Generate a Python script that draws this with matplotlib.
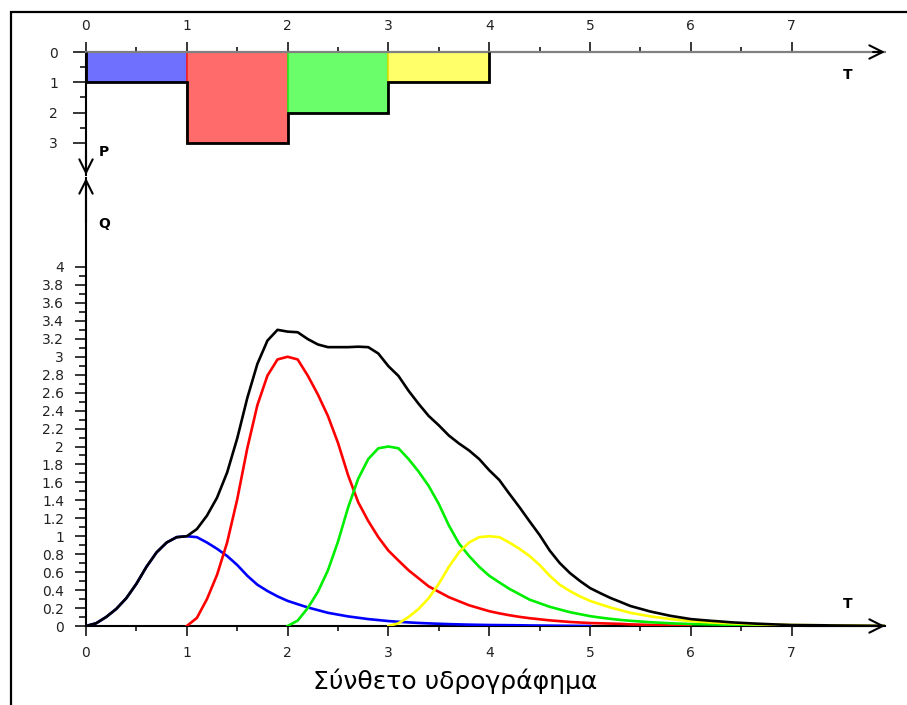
import numpy as np
import matplotlib
matplotlib.use("Agg")
import matplotlib.pyplot as plt
from matplotlib.patches import Rectangle

plt.rcParams['font.family'] = ['DejaVu Sans']

# rainfall blocks (hyetograph), one per time step
RAIN = [1, 3, 2, 1]
RAIN_FILL = ['#7070ff', '#ff6a6a', '#6aff6a', '#ffff6a']
RAIN_EDGE = ['#3030ff', '#ff2020', '#20ee20', '#e0e000']
CURVE_COLORS = ['#0000ff', '#ff0000', '#00ee00', '#ffff00']

# dimensionless unit hydrograph ordinates, t = 0.0 .. 5.0 step 0.1
UH_Q = [0.000, 0.030, 0.100, 0.190, 0.310, 0.470, 0.660, 0.820, 0.930, 0.990,
        1.000, 0.990, 0.930, 0.860, 0.780, 0.680, 0.560, 0.460, 0.390, 0.330,
        0.280, 0.243, 0.207, 0.177, 0.147, 0.127, 0.107, 0.092, 0.077, 0.066,
        0.055, 0.047, 0.040, 0.034, 0.029, 0.025, 0.021, 0.018, 0.015, 0.013,
        0.011, 0.010, 0.009, 0.008, 0.006, 0.005, 0.004, 0.003, 0.002, 0.001,
        0.000]
STEP = 0.1

X_TICKS = [0, 1, 2, 3, 4, 5, 6, 7]
X_MINOR = [0.5, 1.5, 2.5, 3.5, 4.5, 5.5, 6.5]
P_TICKS = [0, 1, 2, 3]
P_MINOR = [0.5, 1.5, 2.5]
Q_TICKS = [0, 0.2, 0.4, 0.6, 0.8, 1, 1.2, 1.4, 1.6, 1.8, 2, 2.2, 2.4, 2.6,
           2.8, 3, 3.2, 3.4, 3.6, 3.8, 4]
Q_MINOR = [0.1, 0.3, 0.5, 0.7, 0.9, 1.1, 1.3, 1.5, 1.7, 1.9, 2.1, 2.3, 2.5,
           2.7, 2.9, 3.1, 3.3, 3.5, 3.7, 3.9]

TITLE = 'Σύνθετο υδρογράφημα'

W, H = 907, 705


def fx(px):
    return px / W


def fy(py):
    return 1 - py / H


def pt(px):
    return px * 72 / 100


fig = plt.figure(figsize=(W / 100, H / 100), dpi=100)

# frame around the drawing
fig.patches.append(Rectangle((fx(11), -0.05), 1.2, fy(12) + 0.05, fill=False,
                             lw=1.6, ec='k', transform=fig.transFigure,
                             figure=fig))

x_max = (885 - 86) / 100.8
tick_font = dict(labelsize=10, labelcolor='#222222')

# ---------------- hydrographs (bottom) ----------------
ax = fig.add_axes([fx(86), fy(626), fx(885) - fx(86), fy(178) - fy(626)])
ax.set_xlim(0, x_max)
ax.set_ylim(0, (626 - 178) / 89.75)

uh = np.array(UH_Q)
n = len(uh)
shift = int(round(1 / STEP))
total = np.zeros(n + shift * (len(RAIN) - 1))
for k, p in enumerate(RAIN):
    t = k + STEP * np.arange(n)
    q = p * uh
    total[k * shift:k * shift + n] += q
    ax.plot(t, q, color=CURVE_COLORS[k], lw=1.9, zorder=3)
t_tot = STEP * np.arange(len(total))
ax.plot(t_tot, total, color='k', lw=1.9, zorder=4)

for s in ['top', 'right']:
    ax.spines[s].set_visible(False)
for s in ['bottom', 'left']:
    ax.spines[s].set_linewidth(1.5)

ax.set_xticks(X_TICKS)
ax.set_xticks(X_MINOR, minor=True)
ax.set_xticklabels([str(v) for v in X_TICKS])
ax.set_yticks(Q_TICKS)
ax.set_yticks(Q_MINOR, minor=True)
ax.set_yticklabels(['{:g}'.format(v) for v in Q_TICKS])
ax.tick_params(axis='x', which='major', length=pt(10), width=1.1, pad=pt(10),
               **tick_font)
ax.tick_params(axis='x', which='minor', length=pt(5), width=1.1)
ax.tick_params(axis='y', which='major', length=pt(11), width=1.1, pad=pt(11),
               **tick_font)
ax.tick_params(axis='y', which='minor', length=pt(7), width=1.1)

arrow = dict(arrowstyle='->', lw=1.5, color='k', mutation_scale=24,
             shrinkA=0, shrinkB=0)
ax.annotate('', xy=(1, 0), xytext=(0.9, 0), xycoords='axes fraction',
            arrowprops=arrow, annotation_clip=False)
ax.annotate('', xy=(0, 1), xytext=(0, 0.9), xycoords='axes fraction',
            arrowprops=arrow, annotation_clip=False)
ax.text(7.56, 0.2, 'T', fontsize=10, fontweight='bold', ha='center')
ax.text(0.18, 4.48, 'Q', fontsize=10, fontweight='bold', ha='center',
        va='center')

# ---------------- hyetograph (top) ----------------
axp = fig.add_axes([fx(86), fy(175), fx(885) - fx(86), fy(52) - fy(175)])
axp.set_xlim(0, x_max)
axp.set_ylim((175 - 52) / 30.33, 0)

edges = np.arange(len(RAIN) + 1)
axp.bar(edges[:-1], RAIN, width=1, align='edge', color=RAIN_FILL,
        edgecolor=RAIN_EDGE, lw=1.2, zorder=2)
axp.stairs(RAIN, edges, baseline=0, color='k', lw=2.0, zorder=3)

for s in ['bottom', 'right']:
    axp.spines[s].set_visible(False)
axp.spines['top'].set_color('#808080')
axp.spines['top'].set_linewidth(1.6)
axp.spines['left'].set_linewidth(1.5)

axp.xaxis.tick_top()
axp.set_xticks(X_TICKS)
axp.set_xticks(X_MINOR, minor=True)
axp.set_xticklabels([str(v) for v in X_TICKS])
axp.set_yticks(P_TICKS)
axp.set_yticks(P_MINOR, minor=True)
axp.set_yticklabels([str(v) for v in P_TICKS])
axp.tick_params(axis='x', which='major', length=pt(10), width=1.1,
                pad=pt(9), **tick_font)
axp.tick_params(axis='x', which='minor', length=pt(5), width=1.1)
axp.tick_params(axis='y', which='major', length=pt(13), width=1.1,
                pad=pt(15), **tick_font)
axp.tick_params(axis='y', which='minor', length=pt(6), width=1.1)

axp.annotate('', xy=(1, 1), xytext=(0.985, 1), xycoords='axes fraction',
             arrowprops=arrow, annotation_clip=False)
axp.annotate('', xy=(0, 0), xytext=(0, 0.2), xycoords='axes fraction',
             arrowprops=arrow, annotation_clip=False)
axp.text(7.56, 0.75, 'T', fontsize=10, fontweight='bold', ha='center',
         va='center')
axp.text(0.18, 3.3, 'P', fontsize=10, fontweight='bold', ha='center',
         va='center')

fig.text(fx(455), fy(689), TITLE, fontsize=18, ha='center', va='baseline')

fig.savefig('out.png', dpi=100)
